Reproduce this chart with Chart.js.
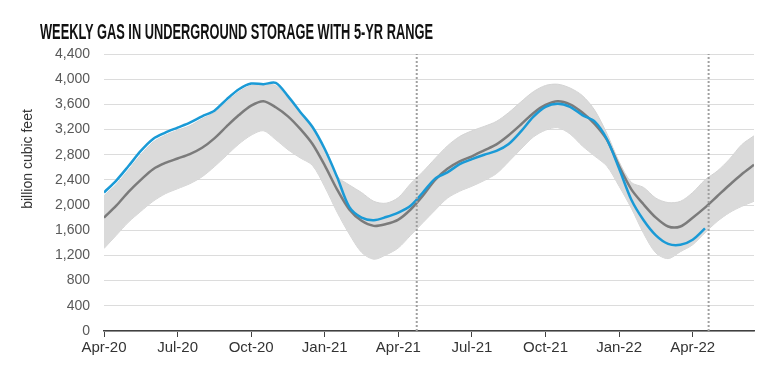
<!DOCTYPE html>
<html>
<head>
<meta charset="utf-8">
<script src="https://cdn.jsdelivr.net/npm/chart.js@4"></script>
<style>
  html, body { margin: 0; padding: 0; background: #fff; }
  #wrap { position: relative; width: 772px; height: 367px; }
  #title {
    position: absolute; left: 40px; top: 21px;
    font-family: 'Liberation Sans Narrow', 'Liberation Sans', Arial, sans-serif;
    font-weight: bold; font-size: 22px; line-height: 1; color: #111;
    white-space: nowrap; transform-origin: left top;
  }
  #ytitle {
    position: absolute; left: -43px; top: 152px; width: 140px; text-align: center;
    font-family: 'Liberation Sans', Arial, sans-serif; font-size: 14px; line-height: 14px;
    color: #333; transform: rotate(-90deg); transform-origin: center;
  }
</style>
</head>
<body>
<div id="wrap">
  <canvas id="chart" width="772" height="367"></canvas>
  <div id="title">WEEKLY GAS IN UNDERGROUND STORAGE WITH 5-YR RANGE</div>
  <div id="ytitle">billion cubic feet</div>
</div>
<script>
// half-month steps starting Apr 1 2020
const monthStep = 0.5;
const xTickLabels = ['Apr-20', 'Jul-20', 'Oct-20', 'Jan-21', 'Apr-21', 'Jul-21', 'Oct-21', 'Jan-22', 'Apr-22'];

// working gas in storage, Bcf
const storage = [
  2200, 2390, 2620, 2860, 3050, 3150, 3230, 3310, 3410, 3500,
  3680, 3840, 3930, 3920, 3940, 3730, 3480, 3240, 2890, 2450,
  1970, 1800, 1760, 1810, 1880, 1990, 2200, 2420, 2520, 2650,
  2730, 2800, 2860, 2970, 3170, 3400, 3560, 3610, 3560, 3430,
  3330, 3050, 2580, 2085, 1760, 1520, 1385, 1370, 1450, 1630
];
const avg5yr = [
  1800, 1990, 2210, 2400, 2570, 2670, 2740, 2810, 2910, 3060,
  3250, 3430, 3580, 3650, 3555, 3410, 3210, 2970, 2630, 2250,
  1930, 1750, 1670, 1700, 1770, 1930, 2150, 2400, 2576, 2695,
  2775, 2870, 2965, 3110, 3280, 3460, 3590, 3650, 3600, 3470,
  3290, 3040, 2620, 2250, 2010, 1800, 1660, 1660, 1800, 1960,
  2140, 2320, 2490, 2640
];
const max5yr = [
  2150, 2330, 2560, 2800, 3000, 3110, 3190, 3260, 3370, 3470,
  3640, 3800, 3900, 3910, 3900, 3700, 3460, 3220, 2870, 2460,
  2320, 2200, 2060, 2030, 2120, 2340, 2530, 2740, 2940, 3090,
  3180, 3250, 3330, 3470, 3640, 3800, 3900, 3920, 3860, 3740,
  3510, 3140, 2690, 2360, 2280, 2110, 2040, 2060, 2200, 2400,
  2540, 2730, 2960, 3100
];
const min5yr = [
  1310, 1520, 1730, 1900, 2060, 2180, 2260, 2340, 2450, 2610,
  2790, 2970, 3110, 3180, 3040, 2880, 2750, 2630, 2290, 1890,
  1540, 1250, 1140, 1210, 1320, 1520, 1720, 1920, 2110, 2220,
  2300, 2390, 2500, 2690, 2890, 3080, 3190, 3230, 3130, 2940,
  2780, 2620, 2300, 1950, 1550, 1240, 1150, 1260, 1370, 1560,
  1740, 1880, 1980, 2060
];
// report-week markers (months after Apr 1 2020)
const markerMonths = [12.75, 24.65];

const toXY = arr => arr.map((v, i) => ({ x: i * monthStep, y: v }));

Chart.defaults.font.family = "'Liberation Sans', Arial, sans-serif";

const markerSets = markerMonths.map(m => ({
  data: [{ x: m, y: 0 }, { x: m, y: 4400 }],
  borderColor: '#a0a0a0',
  borderWidth: 2,
  borderDash: [2, 2],
  tension: 0,
  order: 0
}));

new Chart(document.getElementById('chart'), {
  type: 'line',
  data: {
    datasets: [
      ...markerSets,
      {
        label: 'Storage',
        data: toXY(storage),
        borderColor: '#1a9ad6',
        borderWidth: 2.5,
        order: 1
      },
      {
        label: '5-yr average',
        data: toXY(avg5yr),
        borderColor: '#7b7b7b',
        borderWidth: 2.5,
        order: 2
      },
      {
        label: '5-yr max',
        data: toXY(max5yr),
        borderColor: '#d4d4d4',
        borderWidth: 1,
        backgroundColor: '#dadada',
        fill: '+1',
        order: 3
      },
      {
        label: '5-yr min',
        data: toXY(min5yr),
        borderColor: '#d4d4d4',
        borderWidth: 1,
        order: 4
      }
    ]
  },
  options: {
    responsive: false,
    animation: false,
    elements: {
      point: { radius: 0 },
      line: { tension: 0.3, fill: false }
    },
    layout: { padding: { left: 20, right: 18, top: 54, bottom: 8 } },
    plugins: {
      legend: { display: false },
      tooltip: { enabled: false }
    },
    scales: {
      x: {
        type: 'linear',
        min: 0,
        max: 26.5,
        afterBuildTicks: axis => {
          axis.ticks = xTickLabels.map((_, i) => ({ value: i * 3 }));
        },
        ticks: {
          callback: v => xTickLabels[Math.round(v / 3)],
          color: '#333',
          font: { size: 15 },
          padding: 2,
          maxRotation: 0,
          autoSkip: false
        },
        grid: { drawOnChartArea: false, color: '#404040', tickLength: 6 },
        border: { color: '#404040', width: 1.5 }
      },
      y: {
        min: 0,
        max: 4400,
        ticks: {
          stepSize: 400,
          callback: v => v.toLocaleString('en-US'),
          color: '#595959',
          font: { size: 14 },
          padding: 14
        },
        grid: { color: '#dcdcdc', drawTicks: false },
        border: { display: false },
        afterFit: axis => { axis.width = 84; }
      }
    }
  }
});

// squeeze the condensed heading to the reference width
const title = document.getElementById('title');
const w = title.getBoundingClientRect().width;
title.style.transform = 'scaleX(' + (393 / w) + ')';
</script>
</body>
</html>
